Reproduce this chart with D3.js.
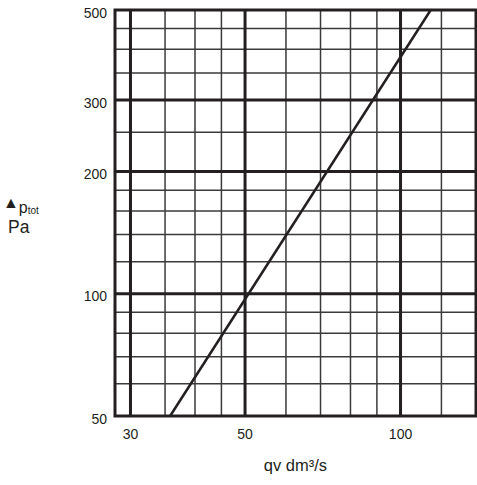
<!DOCTYPE html>
<html>
<head>
<meta charset="utf-8">
<script src="https://cdn.jsdelivr.net/npm/d3@7"></script>
<style>
  html, body { margin: 0; padding: 0; background: #fff; }
  text { font-family: "Liberation Sans", Arial, sans-serif; fill: #231f20; }
</style>
</head>
<body>
<svg id="chart" width="477" height="485"></svg>
<script>
// ---- data ----
const xDomain = [28, 140];
const yDomain = [50, 500];
const xMajorGrid = [30, 50, 100];
const xMinorGrid = [35, 40, 45, 60, 70, 80, 90, 120];
const yMajorGrid = [100, 200, 300];
const yMinorGrid = [60, 70, 80, 90, 120, 140, 160, 180, 250, 350, 400, 450];
const xTickLabels = [30, 50, 100];
const yTickLabels = [50, 100, 200, 300, 500];
const lineQ = [35.8, 114.4];   // qv dm³/s
const lineP = [50, 500];       // Δp_tot Pa

// ---- chart ----
(function () {
const svg = d3.select("#chart");
const mL = 115, mR = 476, mT = 10, mB = 416;
const x = d3.scaleLog().domain(xDomain).range([mL, mR]);
const y = d3.scaleLog().domain(yDomain).range([mB, mT]);

const g = svg.append("g");
const ink = "#231f20";

// minor grid
g.selectAll(".xminor").data(xMinorGrid).join("line")
  .attr("x1", d => x(d)).attr("x2", d => x(d))
  .attr("y1", mT).attr("y2", mB)
  .attr("stroke", "#3a3a3a").attr("stroke-width", 1.5);
g.selectAll(".yminor").data(yMinorGrid).join("line")
  .attr("y1", d => y(d)).attr("y2", d => y(d))
  .attr("x1", mL).attr("x2", mR)
  .attr("stroke", "#3a3a3a").attr("stroke-width", 1.5);

// major grid
g.selectAll(".xmajor").data(xMajorGrid).join("line")
  .attr("x1", d => x(d)).attr("x2", d => x(d))
  .attr("y1", mT).attr("y2", mB)
  .attr("stroke", ink).attr("stroke-width", 3);
g.selectAll(".ymajor").data(yMajorGrid).join("line")
  .attr("y1", d => y(d)).attr("y2", d => y(d))
  .attr("x1", mL).attr("x2", mR)
  .attr("stroke", ink).attr("stroke-width", 3);

// border
g.append("rect")
  .attr("x", mL).attr("y", mT)
  .attr("width", mR - mL).attr("height", mB - mT)
  .attr("fill", "none").attr("stroke", ink).attr("stroke-width", 3);

// data line
const pts = lineQ.map((q, i) => [q, lineP[i]]);
g.append("path")
  .datum(pts)
  .attr("d", d3.line().x(d => x(d[0])).y(d => y(d[1])))
  .attr("fill", "none").attr("stroke", ink).attr("stroke-width", 2.5);

// y tick labels
g.selectAll(".ylab").data(yTickLabels).join("text")
  .attr("x", 107).attr("y", d => y(d) + 7.5)
  .attr("text-anchor", "end")
  .attr("font-size", 14)
  .text(d => d);

// x tick labels
g.selectAll(".xlab").data(xTickLabels).join("text")
  .attr("x", d => x(d)).attr("y", 438.5)
  .attr("text-anchor", "middle")
  .attr("font-size", 14)
  .text(d => d);

// x title
svg.append("text")
  .attr("x", (mL + mR) / 2).attr("y", 471)
  .attr("text-anchor", "middle")
  .attr("font-size", 16.5)
  .text("qv dm³/s");

// y title
const yt = svg.append("text").attr("x", 3).attr("y", 208);
yt.append("tspan").attr("font-size", 16).text("▲");
yt.append("tspan").attr("font-size", 16).attr("dy", 5).text("p");
yt.append("tspan").attr("font-size", 10).attr("dy", 1).text("tot");
svg.append("text").attr("x", 8).attr("y", 233).attr("font-size", 17.5).text("Pa");
})();
</script>
</body>
</html>
